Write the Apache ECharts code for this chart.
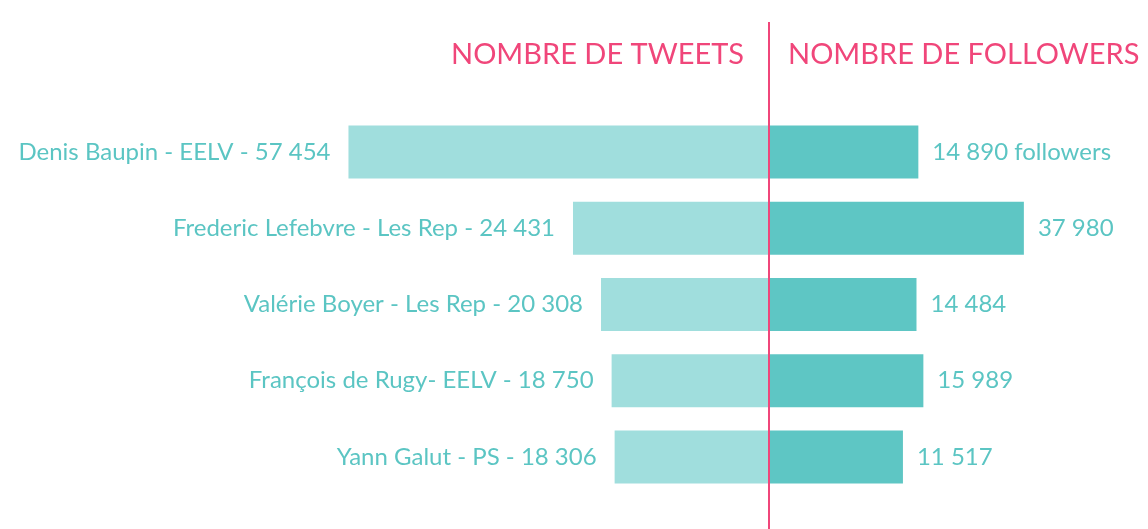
<!DOCTYPE html>
<html>
<head>
<meta charset="utf-8">
<script src="https://cdn.jsdelivr.net/npm/echarts@6/dist/echarts.min.js"></script>
<style>
  html, body { margin: 0; padding: 0; background: #fff; }
  #chart { width: 1148px; height: 529px; }
</style>
</head>
<body>
<div id="chart"></div>
<script>
// politiciens (nom - parti)
const names = [
  "Denis Baupin - EELV",
  "Frederic Lefebvre - Les Rep",
  "Valérie Boyer - Les Rep",
  "François de Rugy- EELV",
  "Yann Galut - PS"
];
const tweets = [57454, 24431, 20308, 18750, 18306];
const followers = [14890, 37980, 14484, 15989, 11517];
const headers = ["NOMBRE DE TWEETS", "NOMBRE DE FOLLOWERS"];

const PINK = "#f0467a";
const TEAL_LIGHT = "#a0dedd";
const TEAL = "#5ec6c4";
const TEXT = "#5bc5c3";
const FONT = "Lato, 'Open Sans', sans-serif";

// espace comme séparateur de milliers
function fmt(v) {
  return String(v).replace(/\B(?=(\d{3})+(?!\d))/g, " ");
}

const chart = echarts.init(document.getElementById("chart"));

chart.setOption({
  animation: false,
  backgroundColor: "#fff",
  title: [
    {
      text: headers[0],
      right: 399,
      top: 35,
      textStyle: { color: PINK, fontFamily: FONT, fontSize: 29, fontWeight: "normal" }
    },
    {
      text: headers[1],
      left: 783,
      top: 35,
      textStyle: { color: PINK, fontFamily: FONT, fontSize: 29, fontWeight: "normal" }
    }
  ],
  grid: [
    { left: 100, right: 379, top: 114, bottom: 34 },
    { left: 769, right: 0, top: 114, bottom: 34 }
  ],
  xAxis: [
    {
      gridIndex: 0,
      type: "value",
      inverse: true,
      min: -4400,
      max: 94000,
      startValue: -4400,
      show: false
    },
    {
      gridIndex: 1,
      type: "value",
      min: -17790,
      max: 65140,
      startValue: -17790,
      show: false
    }
  ],
  yAxis: [
    { gridIndex: 0, type: "category", data: names, inverse: true, show: false },
    { gridIndex: 1, type: "category", data: names, inverse: true, show: false }
  ],
  series: [
    {
      name: "tweets",
      type: "bar",
      xAxisIndex: 0,
      yAxisIndex: 0,
      data: tweets,
      barWidth: 53,
      itemStyle: { color: TEAL_LIGHT },
      label: {
        show: true,
        position: "left",
        distance: 18,
        color: TEXT,
        fontFamily: FONT,
        fontSize: 24,
        formatter: p => p.name + " - " + fmt(p.value)
      }
    },
    {
      name: "followers",
      type: "bar",
      xAxisIndex: 1,
      yAxisIndex: 1,
      data: followers,
      barWidth: 53,
      itemStyle: { color: TEAL },
      label: {
        show: true,
        position: "right",
        distance: 14,
        color: TEXT,
        fontFamily: FONT,
        fontSize: 24,
        formatter: p => fmt(p.value) + (p.dataIndex === 0 ? " followers" : "")
      }
    }
  ],
  graphic: [
    {
      type: "line",
      z: 100,
      shape: { x1: 769, y1: 22, x2: 769, y2: 529 },
      style: { stroke: PINK, lineWidth: 2 }
    }
  ]
});
</script>
</body>
</html>
